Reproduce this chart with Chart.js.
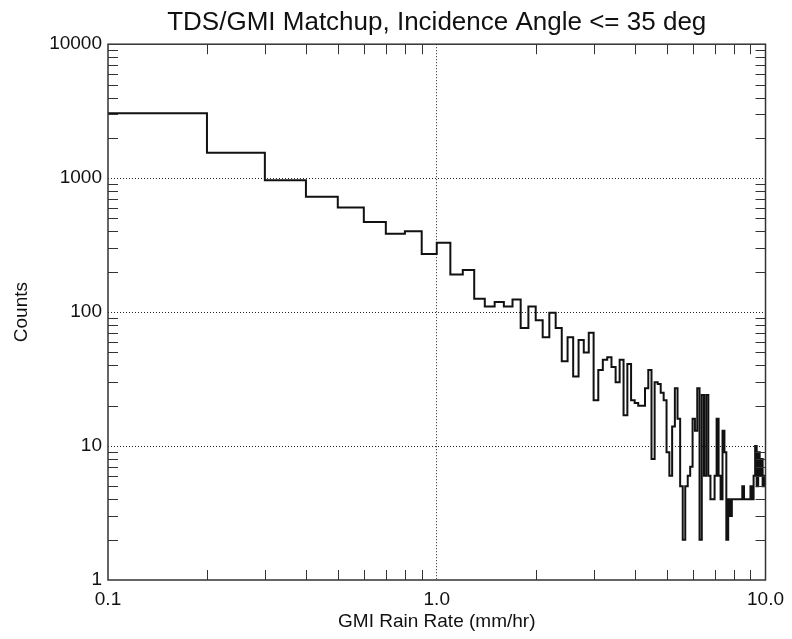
<!DOCTYPE html>
<html lang="en">
<head>
<meta charset="UTF-8">
<title>TDS/GMI Matchup</title>
<script src="https://cdn.jsdelivr.net/npm/chart.js"></script>
<style>
  html, body { margin: 0; padding: 0; background: #fff; }
  #wrap { width: 792px; height: 639px; }
</style>
</head>
<body>
<div id="wrap"><canvas id="histChart"></canvas></div>
<script>
// histogram bins: 0.1 mm/hr wide, from 0.1 to 10.0
const binStart = 0.1;
const binWidth = 0.1;
const counts = [
  3050, 1545, 966, 725, 604, 470, 384, 402, 271, 329,
  191, 206, 126, 110, 119, 110, 124, 76, 110, 87,
  65, 99, 76, 43, 65, 33, 62, 50, 70, 22,
  37, 44, 46, 39, 30, 44, 17, 41, 22, 21,
  20, 20, 27, 37, 8, 30, 29, 25, 22, 9,
  6, 14, 27, 16, 5, 2, 5, 6, 7, 16,
  13, 27, 2, 24, 6, 24, 6, 4, 4, 6,
  16, 6, 4, 13, 9, 2, 4, 3, 4, 4,
  4, 4, 4, 4, 5, 4, 4, 4, 4, 5,
  4, 6, 10, 5, 9, 6, 8, 5, 6
];

const xMajor = [0.1, 1, 10];
const xMajorLabels = ['0.1', '1.0', '10.0'];
const yMajor = [1, 10, 100, 1000, 10000];
const yMajorLabels = ['1', '10', '100', '1000', '10000'];
const xGrid = [1];
const yGrid = [10, 100, 1000];

const FONT = "'Liberation Sans', Helvetica, Arial, sans-serif";

// step points: left edge of every bin, plus the right edge of the last one
const points = counts.map((c, i) => ({ x: +(binStart + i * binWidth).toFixed(1), y: c }));
points.push({ x: +(binStart + counts.length * binWidth).toFixed(1), y: counts[counts.length - 1] });

function logTicks(majors) {
  let out = [];
  for (let i = 0; i < majors.length; i++) {
    out.push(majors[i]);
    if (i < majors.length - 1) {
      for (let k = 2; k <= 9; k++) out.push(+(majors[i] * k).toPrecision(3));
    }
  }
  return out;
}

// box round the plot with short inward minor tick marks on all four sides
const frameTicks = {
  id: 'frameTicks',
  afterDatasetsDraw(chart) {
    const { ctx, chartArea: a, scales: { x, y } } = chart;
    const len = 10;
    ctx.save();
    ctx.strokeStyle = '#333';
    ctx.lineWidth = 1;
    ctx.beginPath();
    x.ticks.forEach(t => {
      if (xMajor.includes(t.value)) return;
      const px = Math.round(x.getPixelForValue(t.value)) + 0.5;
      ctx.moveTo(px, a.bottom); ctx.lineTo(px, a.bottom - len);
      ctx.moveTo(px, a.top); ctx.lineTo(px, a.top + len);
    });
    y.ticks.forEach(t => {
      if (yMajor.includes(t.value)) return;
      const py = Math.round(y.getPixelForValue(t.value)) + 0.5;
      ctx.moveTo(a.left, py); ctx.lineTo(a.left + len, py);
      ctx.moveTo(a.right, py); ctx.lineTo(a.right - len, py);
    });
    ctx.stroke();
    ctx.lineWidth = 1.5;
    ctx.strokeRect(a.left, a.top, a.right - a.left, a.bottom - a.top);
    ctx.restore();
  }
};

new Chart(document.getElementById('histChart'), {
  type: 'line',
  data: {
    datasets: [{
      label: 'Counts',
      data: points,
      stepped: 'before',
      borderColor: '#111',
      borderWidth: 2,
      pointRadius: 0,
      fill: false
    }]
  },
  options: {
    responsive: true,
    maintainAspectRatio: false,
    animation: false,
    layout: { padding: { left: 0, right: 25, top: 0, bottom: 0 } },
    plugins: {
      legend: { display: false },
      tooltip: { enabled: false },
      title: {
        display: true,
        fullSize: false,
        text: 'TDS/GMI Matchup, Incidence Angle <= 35 deg',
        color: '#111',
        font: { family: FONT, size: 26, weight: 'normal' },
        padding: { top: 7, bottom: 6 }
      }
    },
    scales: {
      x: {
        type: 'logarithmic',
        min: 0.1,
        max: 10,
        afterBuildTicks: s => { s.ticks = logTicks(xMajor).map(v => ({ value: v })); },
        afterFit: s => { s.height = 59; },
        ticks: {
          autoSkip: false,
          maxRotation: 0,
          color: '#111',
          padding: 8,
          font: { family: FONT, size: 19 },
          callback: v => { const i = xMajor.indexOf(v); return i < 0 ? '' : xMajorLabels[i]; }
        },
        grid: {
          drawTicks: false,
          lineWidth: 1,
          color: c => (c.tick && xGrid.includes(c.tick.value)) ? '#222' : 'rgba(0,0,0,0)'
        },
        border: { display: false, dash: [1, 2] },
        title: {
          display: true,
          text: 'GMI Rain Rate (mm/hr)',
          color: '#111',
          font: { family: FONT, size: 19 },
          padding: { top: 0, bottom: 6 }
        }
      },
      y: {
        type: 'logarithmic',
        min: 1,
        max: 10000,
        afterBuildTicks: s => { s.ticks = logTicks(yMajor).map(v => ({ value: v })); },
        afterFit: s => { s.width = 108; },
        ticks: {
          autoSkip: false,
          color: '#111',
          padding: 6,
          font: { family: FONT, size: 19 },
          callback: v => { const i = yMajor.indexOf(v); return i < 0 ? '' : yMajorLabels[i]; }
        },
        grid: {
          drawTicks: false,
          lineWidth: 1,
          color: c => (c.tick && yGrid.includes(c.tick.value)) ? '#222' : 'rgba(0,0,0,0)'
        },
        border: { display: false, dash: [1, 2] },
        title: {
          display: true,
          text: 'Counts',
          color: '#111',
          font: { family: FONT, size: 19 },
          padding: { top: 10, bottom: 0 }
        }
      }
    }
  },
  plugins: [frameTicks]
});
</script>
</body>
</html>
